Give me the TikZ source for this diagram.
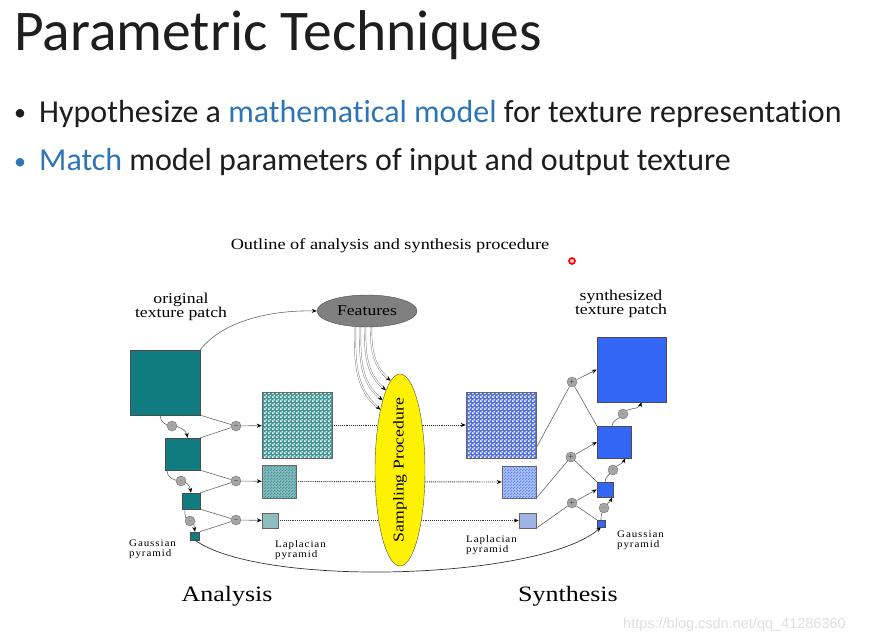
\documentclass[tikz,border=0pt]{standalone}
\usepackage{fontspec}
\setmainfont[FakeStretch=1.18]{Liberation Serif}
\newfontfamily\slidefont[Ligatures=NoCommon]{Carlito}
\newfontfamily\spacedfont[LetterSpace=9, FakeStretch=1.1]{Liberation Serif}
\newfontfamily\wmfont{Liberation Sans}
\usetikzlibrary{
    arrows.meta,
    backgrounds,
    patterns.meta,
    shapes.geometric
}
\definecolor{tealbox}{RGB}{16,124,128}
\definecolor{tealmid}{RGB}{60,150,152}
\definecolor{tealpale}{RGB}{140,190,192}
\definecolor{bluebox}{RGB}{51,102,245}
\definecolor{bluechk}{RGB}{80,110,225}
\definecolor{bluepale}{RGB}{160,180,228}
\definecolor{bluemid}{RGB}{175,195,245}
\definecolor{slideblue}{RGB}{46,117,182}
\definecolor{slideink}{RGB}{30,30,30}

\tikzdeclarepattern{
    name=finechecker, type=uncolored,
    bottom left={(0pt,0pt)}, top right={(4pt,4pt)}, tile size={(4pt,4pt)},
    code={\fill (0pt,0pt) rectangle (2pt,2pt); \fill (2pt,2pt) rectangle (4pt,4pt);}
}
\tikzdeclarepattern{
    name=finedots, type=uncolored,
    bottom left={(0pt,0pt)}, top right={(3pt,3pt)}, tile size={(3pt,3pt)},
    code={\fill (0pt,0pt) rectangle (1.5pt,1.5pt); \fill (1.5pt,1.5pt) rectangle (3pt,3pt);}
}

\begin{document}
\begin{tikzpicture} [x=1pt, y=-1pt, inner sep=0pt,
    tip/.style={-{Stealth[length=5pt,width=4pt,black]}},
    wire/.style={draw=black!60, line width=0.6pt},
    gauss/.style={rectangle,draw=black!70,fill=tealbox},
    synth/.style={rectangle,draw=black!70,fill=bluebox},
    opcircle/.style={circle,draw=black!55,fill=black!35,minimum size=10pt,
                  font=\fontsize{6}{6}\selectfont},
    feed/.style={draw=black!50, double=white, double distance=1.1pt,
                  line width=0.45pt},
    dots/.style={draw=black!80, densely dotted, line width=0.9pt},
    small/.style={font=\spacedfont\fontsize{10}{10}\selectfont, align=left, anchor=north west},
    label/.style={font=\fontsize{15}{14}\selectfont, align=center},
    bullet/.style={anchor=base west, font=\slidefont\fontsize{32}{32}\selectfont, text=slideink}
]
    \useasboundingbox (0,0) rectangle (876,642);

    % slide text
    \node[anchor=base west, font=\slidefont\fontsize{57.5}{58}\selectfont, text=slideink]
        (title) at (14,51) {Parametric Techniques};
    \node[anchor=base west, font=\slidefont\fontsize{24}{24}\selectfont, text=slideink]
        (dot 1) at (14,121) {•};
    \node[bullet] (item 1) at (39,122)
        {Hypothesize a \textcolor{slideblue}{mathematical model} for texture representation};
    \node[anchor=base west, font=\slidefont\fontsize{24}{24}\selectfont, text=slideblue]
        (dot 2) at (14,169) {•};
    \node[bullet] (item 2) at (39,170)
        {\textcolor{slideblue}{Match} model parameters of input and output texture};

    \node[font=\fontsize{15.5}{15}\selectfont] (outline) at (390,246)
        {Outline of analysis and synthesis procedure};
    \node[circle, draw=red, fill=red!25, line width=1.6pt, minimum size=6pt] (cursor) at (572,261) {};

    % analysis side
    \node[label] (orig label) at (181,307) {original\\texture patch};
    \node[gauss, minimum width=70pt, minimum height=65pt] (G0) at (165,382.5) {};
    \node[gauss, minimum width=35pt, minimum height=32pt] (G1) at (182.5,454) {};
    \node[gauss, minimum width=18pt, minimum height=16pt] (G2) at (191,501) {};
    \node[gauss, minimum width=9pt,  minimum height=8pt]  (G3) at (195,536) {};

    \node[opcircle] (d1) at (172,426) {$\cdot$};
    \node[opcircle] (d2) at (181,481) {$\cdot$};
    \node[opcircle] (d3) at (190,521) {$\cdot$};
    \node[opcircle] (m1) at (236,426) {$-$};
    \node[opcircle] (m2) at (236,481) {$-$};
    \node[opcircle] (m3) at (236,520) {$-$};

    \node[rectangle, draw=black!60, preaction={fill=tealmid}, pattern=finechecker,
          pattern color=white, minimum width=70pt, minimum height=66pt] (LA0) at (297,425) {};
    \node[rectangle, draw=black!60, preaction={fill=tealpale}, pattern=finedots,
          pattern color=tealbox!80, minimum width=34pt, minimum height=33pt] (LA1) at (279,481.5) {};
    \node[rectangle, draw=black!60, fill=tealpale,
          minimum width=16pt, minimum height=15pt] (LA2) at (270,520.5) {};

    \node[small] (gauss a) at (129,540) {Gaussian\\pyramid};
    \node[small] (lap a) at (275,540) {Laplacian\\pyramid};
    \node[font=\fontsize{22}{22}\selectfont] (analysis) at (227,596) {Analysis};

    % middle
    \node[ellipse, draw=black!70, fill=black!50, minimum width=100pt, minimum height=32pt,
          font=\fontsize{15}{15}\selectfont] (features) at (367,311) {Features};
    \node[ellipse, draw=black!70, fill=yellow, minimum width=50pt, minimum height=192pt]
        (sampling) at (400,470) {};
    \node[rotate=90, font=\fontsize{15}{15}\selectfont] (sampling text) at (sampling) {Sampling Procedure};

    % synthesis side
    \node[rectangle, draw=black!60, preaction={fill=bluechk}, pattern=finechecker,
          pattern color=white, minimum width=70pt, minimum height=66pt] (LS0) at (501,425) {};
    \node[rectangle, draw=black!60, preaction={fill=bluemid}, pattern=finedots,
          pattern color=bluebox!80, minimum width=34pt, minimum height=32pt] (LS1) at (519,482) {};
    \node[rectangle, draw=black!60, fill=bluepale,
          minimum width=17pt, minimum height=15pt] (LS2) at (527.5,520.5) {};

    \node[label] (synth label) at (621,304) {synthesized\\texture patch};
    \node[synth, minimum width=69pt, minimum height=65pt] (S0) at (631.5,369.5) {};
    \node[synth, minimum width=34pt, minimum height=32pt] (S1) at (614,442) {};
    \node[synth, minimum width=16pt, minimum height=15pt] (S2) at (605,489.5) {};
    \node[synth, minimum width=8pt,  minimum height=7pt]  (S3) at (601,523.5) {};

    \node[opcircle] (p1) at (572,382) {$+$};
    \node[opcircle] (p2) at (571,457) {$+$};
    \node[opcircle] (p3) at (572,503) {$+$};
    \node[opcircle] (u1) at (623,414) {$\cdot$};
    \node[opcircle] (u2) at (613,470) {$\cdot$};
    \node[opcircle] (u3) at (604,508) {$\cdot$};

    \node[small] (lap s) at (466,535) {Laplacian\\pyramid};
    \node[small] (gauss s) at (617,531) {Gaussian\\pyramid};
    \node[font=\fontsize{22}{22}\selectfont] (synthesis) at (568,596) {Synthesis};

    \node[anchor=base west, font=\wmfont\fontsize{14.5}{14}\selectfont, text=black!13]
        (watermark) at (623,628) {https://blog.csdn.net/qq\_41286360};

    \begin{scope}[on background layer]
        % analysis connectors
        \draw[wire, tip] (G0.north east) .. controls (222,322) and (268,310) .. (features.west);
        \draw[wire, tip] ([xshift=-5pt]G0.south) to[out=-90,in=180] (d1.center)
            to[out=0,in=100] ([xshift=5pt]G1.north);
        \draw[wire, tip] ([xshift=2pt]G1.south west) to[out=-90,in=180] (d2.center)
            to[out=0,in=100] (G2.north);
        \draw[wire, tip] ([xshift=3pt]G2.south west) to[out=-90,in=180] (d3.center)
            to[out=0,in=100] (G3.north);
        \draw[wire] (G0.south east) -- (m1);
        \draw[wire] (G1.north east) -- (m1);
        \draw[wire] (G1.south east) -- (m2);
        \draw[wire] (G2.north east) -- (m2);
        \draw[wire] (G2.south east) -- (m3);
        \draw[wire] (G3.north east) -- (m3);
        \draw[wire, tip] (m1) -- (LA0);
        \draw[wire, tip] (m2) -- (LA1);
        \draw[wire, tip] (m3) -- (LA2);

        % through the sampler
        \draw[dots, tip] (LA0.east) -- (LS0.west);
        \draw[dots, tip] (LA1.east) -- (LS1.west);
        \draw[dots, tip] (LA2.east) -- (LS2.west);
        \foreach \dx/\ang in {-12/108,-7/104,-2/100,4/96}
            \draw[feed, tip] ([xshift=\dx pt]features.south) to[out=-90,in=140] (sampling.\ang);

        % synthesis connectors
        \draw[wire] (LS0.-33) -- (p1);
        \draw[wire, tip] (p1) -- (S0.west);
        \draw[wire] (p1) -- (S1.north west);
        \draw[wire] (LS1.south east) -- (p2);
        \draw[wire, tip] (p2) -- (S1.west);
        \draw[wire] (p2) -- (S2.north west);
        \draw[wire] (LS2.south east) -- (p3);
        \draw[wire, tip] (p3) -- (S2.west);
        \draw[wire] (p3) -- (S3.north west);
        \draw[wire, tip] ([xshift=-2pt]S1.north) to[out=90,in=-120] (u1.center)
            to[out=60,in=-110] ([xshift=10pt]S0.south);
        \draw[wire, tip] (S2.north) to[out=90,in=-120] (u2.center)
            to[out=60,in=-110] ([xshift=11pt]S1.south);
        \draw[wire, tip] (S3.north) to[out=90,in=-120] (u3.center)
            to[out=60,in=-110] ([xshift=7pt]S2.south);

        % coarsest level straight across
        \draw[draw=black!80, line width=0.7pt, tip] (G3.south) .. controls (262,588) and (540,580) .. (S3.south);
    \end{scope}
\end{tikzpicture}
\end{document}
